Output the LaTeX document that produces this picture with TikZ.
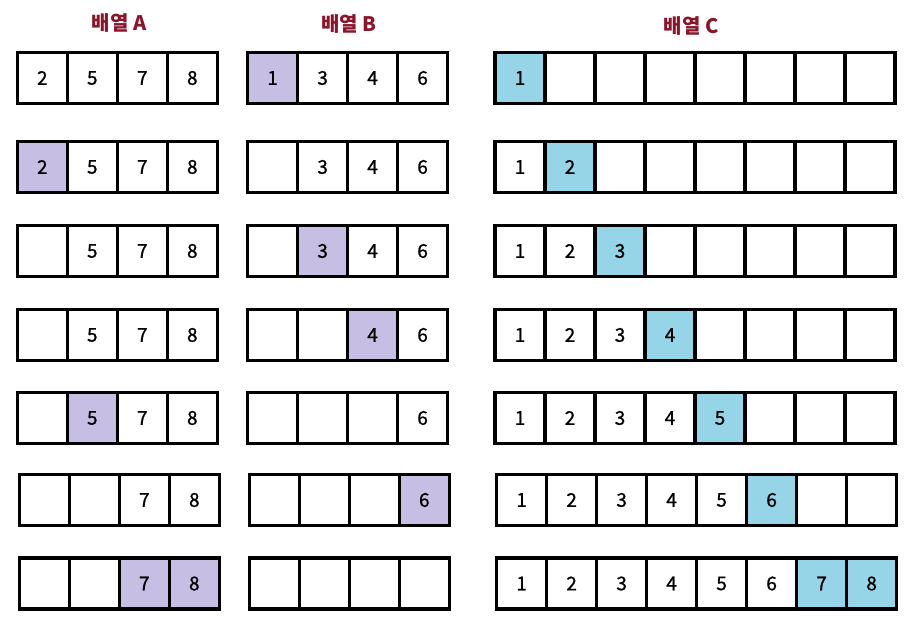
\documentclass[tikz,border=0pt]{standalone}
\usepackage{fontspec}
\setmainfont{Noto Sans CJK KR}
\newfontfamily\digitfont[FakeBold=0.9]{Noto Sans CJK KR}
\usetikzlibrary{positioning}
\definecolor{titlered}{RGB}{139,21,42}
\definecolor{cellw}{RGB}{255,255,255}
\definecolor{cellp}{RGB}{198,191,227}
\definecolor{cellb}{RGB}{150,212,232}

\begin{document}
\begin{tikzpicture}[
  x=1pt, y=-1pt,
  cell/.style={
    rectangle, draw=black, line width=3.4pt,
    minimum width=50pt, minimum height=51pt, inner sep=0pt,
    anchor=west, font=\digitfont\fontsize{19}{19}\selectfont
  },
  arrtitle/.style={font=\bfseries\fontsize{20}{20}\selectfont, text=titlered}
]
  \useasboundingbox (0,0) rectangle (908,624);

  % titles
  \node[arrtitle] (titleA) at (119,23) {배열 A};
  \node[arrtitle] (titleB) at (349,24) {배열 B};
  \node[arrtitle] (titleC) at (691,26) {배열 C};

  % array A
  \foreach \r/\y/\x/\vals in {
    1/78/15.6/{2/w,5/w,7/w,8/w},
    2/167/15.6/{2/p,5/w,7/w,8/w},
    3/251/15.6/{{}/w,5/w,7/w,8/w},
    4/335/15.6/{{}/w,5/w,7/w,8/w},
    5/418/15.6/{{}/w,5/p,7/w,8/w},
    6/500/17.6/{{}/w,{}/w,7/w,8/w},
    7/583.5/17.6/{{}/w,{}/w,7/p,8/p}}
    \foreach \v/\f [count=\i] in \vals
      \node[cell, fill=cell\f] (a\r-\i) at (\x+\i*50-50, \y) {\v};

  % array B
  \foreach \r/\y/\x/\vals in {
    1/78/245.9/{1/p,3/w,4/w,6/w},
    2/167/245.9/{{}/w,3/w,4/w,6/w},
    3/251/245.9/{{}/w,3/p,4/w,6/w},
    4/335/245.9/{{}/w,{}/w,4/p,6/w},
    5/418/245.9/{{}/w,{}/w,{}/w,6/w},
    6/500/247.6/{{}/w,{}/w,{}/w,6/p},
    7/583.5/247.6/{{}/w,{}/w,{}/w,{}/w}}
    \foreach \v/\f [count=\i] in \vals
      \node[cell, fill=cell\f] (b\r-\i) at (\x+\i*50-50, \y) {\v};

  % array C
  \foreach \r/\y/\x/\vals in {
    1/78/493.3/{1/b,{}/w,{}/w,{}/w,{}/w,{}/w,{}/w,{}/w},
    2/167/493.3/{1/w,2/b,{}/w,{}/w,{}/w,{}/w,{}/w,{}/w},
    3/251/493.3/{1/w,2/w,3/b,{}/w,{}/w,{}/w,{}/w,{}/w},
    4/335/493.3/{1/w,2/w,3/w,4/b,{}/w,{}/w,{}/w,{}/w},
    5/418/493.3/{1/w,2/w,3/w,4/w,5/b,{}/w,{}/w,{}/w},
    6/500/494.9/{1/w,2/w,3/w,4/w,5/w,6/b,{}/w,{}/w},
    7/583.5/494.9/{1/w,2/w,3/w,4/w,5/w,6/w,7/b,8/b}}
    \foreach \v/\f [count=\i] in \vals
      \node[cell, fill=cell\f] (c\r-\i) at (\x+\i*50-50, \y) {\v};
\end{tikzpicture}
\end{document}
